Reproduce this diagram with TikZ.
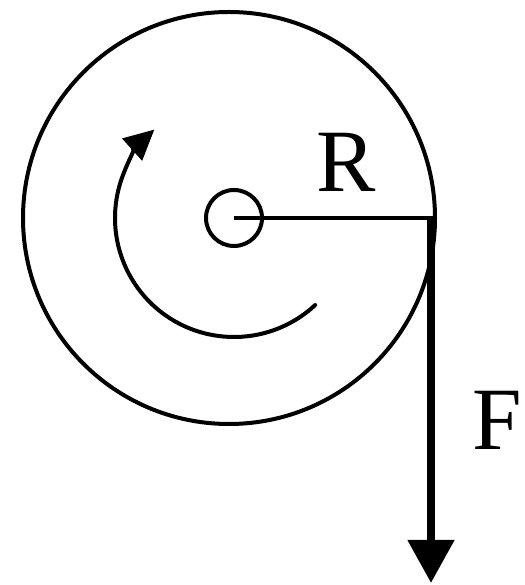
\documentclass[tikz,border=0pt]{standalone}
\usepackage{fontspec}
\setmainfont{Liberation Serif}
\usetikzlibrary{arrows.meta}
\begin{document}
\begin{tikzpicture}[x=1pt,y=1pt,
  thin line/.style={line width=4pt},
  force/.style={line width=8pt,-{Triangle[length=43pt,width=45pt]}},
  rot/.style={line width=4pt,line cap=round,-{Triangle[length=30pt,width=29pt]}},
  lbl/.style={font=\fontsize{89}{89}\selectfont,inner sep=0pt,anchor=base}]
\useasboundingbox (0,0) rectangle (524,585);
\coordinate (C) at (229,367);
\coordinate (O) at (234,367);
\draw[thin line] (C) circle[radius=206];
\node[draw,circle,thin line,minimum size=56pt,inner sep=0pt] (hub) at (O) {};
\coordinate (P) at (432,367);
\coordinate (Ftip) at (431,2);
\draw[thin line] (O) -- (P);
\draw[force] (431,369) -- (Ftip);
\draw[rot] ([shift={(-47:119)}]O) arc[start angle=-47,end angle=-228,radius=119];
\node[lbl] (R) at (346,393) {R};
\node[lbl] (F) at (497,135) {F};
\end{tikzpicture}
\end{document}
